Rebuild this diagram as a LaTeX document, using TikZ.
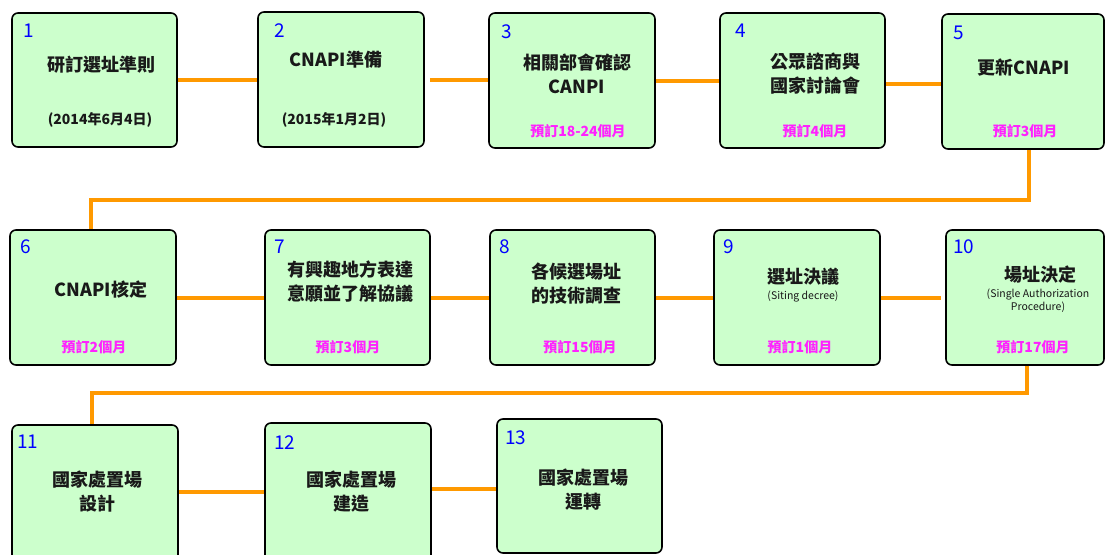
\documentclass[tikz,border=0pt]{standalone}
\usepackage{fontspec}
\setmainfont{Noto Sans CJK TC}
\definecolor{boxgreen}{HTML}{CCFFCC}
\definecolor{lineorange}{HTML}{FF9900}
\definecolor{magentatxt}{HTML}{FF22FF}
\definecolor{bluenum}{HTML}{0000FF}
\tikzset{
  stepbox/.style={draw=black, line width=1.6pt, fill=boxgreen, rounded corners=6pt, inner sep=0pt},
  link/.style={draw=lineorange, line width=4pt},
  numtxt/.style={anchor=west, inner sep=0pt, text=bluenum, font=\fontsize{19}{20}\selectfont},
  titletxt/.style={inner sep=0pt, align=center, font=\fontsize{18}{24}\selectfont\bfseries, text=black!90},
  datetxt/.style={inner sep=0pt, align=center, font=\fontsize{14}{16}\selectfont\bfseries, text=black!90},
  monthtxt/.style={inner sep=0pt, text=magentatxt, font=\fontsize{14}{16}\selectfont\bfseries},
  smalltxt/.style={inner sep=0pt, align=center, font=\fontsize{10.5}{13}\selectfont, text=black!90},
}
\begin{document}
\begin{tikzpicture}[x=1pt,y=-1pt]
\useasboundingbox (0,0) rectangle (1105,554);
\clip (0,0) rectangle (1105,554);
% boxes
\node[stepbox, minimum width=165, minimum height=134] (b1) at (94.5,80) {};
\node[stepbox, minimum width=166, minimum height=135] (b2) at (341,79.5) {};
\node[stepbox, minimum width=166, minimum height=135] (b3) at (572,80.5) {};
\node[stepbox, minimum width=165, minimum height=135] (b4) at (802.5,80.5) {};
\node[stepbox, minimum width=162, minimum height=135] (b5) at (1023,81.5) {};
\node[stepbox, minimum width=166, minimum height=135] (b6) at (93,297.5) {};
\node[stepbox, minimum width=165, minimum height=135] (b7) at (347.5,297.5) {};
\node[stepbox, minimum width=165, minimum height=135] (b8) at (572.5,297.5) {};
\node[stepbox, minimum width=166, minimum height=135] (b9) at (797,297.5) {};
\node[stepbox, minimum width=158, minimum height=135] (b10) at (1025,297.5) {};
\node[stepbox, minimum width=166, minimum height=165] (b11) at (95,507.5) {};
\node[stepbox, minimum width=166, minimum height=167] (b12) at (348,506.5) {};
\node[stepbox, minimum width=165, minimum height=134] (b13) at (579.5,486) {};
% connectors row 1
\draw[link] (b1.east) -- (b1.east -| b2.west);
\draw[link, shorten <=5pt] (b2.east) -- (b2.east -| b3.west);
\draw[link] (b3.east) -- (b3.east -| b4.west);
\draw[link] ([yshift=-3]b4.east) -- ([yshift=-3]b4.east -| b5.west);
% 5 -> 6
\coordinate (bend1) at (0,200);
\draw[link] ([xshift=6]b5.south) -- ([xshift=6]b5.south |- bend1) -| ([xshift=-2]b6.north);
% connectors row 2
\draw[link] (b6.east) -- (b6.east -| b7.west);
\draw[link] (b7.east) -- (b7.east -| b8.west);
\draw[link] (b8.east) -- (b8.east -| b9.west);
\draw[link, shorten >=4pt] (b9.east) -- (b9.east -| b10.west);
% 10 -> 11
\coordinate (bend2) at (0,393);
\draw[link] ([xshift=2]b10.south) -- ([xshift=2]b10.south |- bend2) -| ([xshift=-3]b11.north);
% connectors row 3
\coordinate (c11) at (b11.east |- 0,492);
\draw[link] (c11) -- (c11 -| b12.west);
\coordinate (c12) at (b12.east |- 0,489);
\draw[link] (c12) -- (c12 -| b13.west);
% numbers
\node[numtxt] (n1) at (23,31) {1};
\node[numtxt] (n2) at (274,31) {2};
\node[numtxt] (n3) at (501,32) {3};
\node[numtxt] (n4) at (735,31) {4};
\node[numtxt] (n5) at (953,33) {5};
\node[numtxt] (n6) at (20,247) {6};
\node[numtxt] (n7) at (274,247) {7};
\node[numtxt] (n8) at (499,247) {8};
\node[numtxt] (n9) at (723,247) {9};
\node[numtxt] (n10) at (953,247) {10};
\node[numtxt] (n11) at (17,442) {11};
\node[numtxt] (n12) at (274,443) {12};
\node[numtxt] (n13) at (505,438) {13};
% titles
\node[titletxt] (t1) at (101,65) {研訂選址準則};
\node[datetxt] (d1) at (100,120) {(2014年6月4日)};
\node[titletxt] (t2) at (336,60) {CNAPI準備};
\node[datetxt] (d2) at (334,120) {(2015年1月2日)};
\node[titletxt] (t3) at (577,73.5) {相關部會確認\\CANPI};
\node[monthtxt] (m3) at (578,131) {預訂18-24個月};
\node[titletxt] (t4) at (815,74) {公眾諮商與\\國家討論會};
\node[monthtxt] (m4) at (815,131) {預訂4個月};
\node[titletxt] (t5) at (1024,68) {更新CNAPI};
\node[monthtxt] (m5) at (1025,131) {預訂3個月};
\node[titletxt] (t6) at (101,290) {CNAPI核定};
\node[monthtxt] (m6) at (94,347) {預訂2個月};
\node[titletxt] (t7) at (350,281.5) {有興趣地方表達\\意願並了解協議};
\node[monthtxt] (m7) at (348,347) {預訂3個月};
\node[titletxt] (t8) at (576,284) {各候選場址\\的技術調查};
\node[monthtxt] (m8) at (580,347) {預訂15個月};
\node[titletxt] (t9) at (803,277) {選址決議};
\node[smalltxt] (s9) at (803,297) {(Siting decree)};
\node[monthtxt] (m9) at (800,347) {預訂1個月};
\node[titletxt] (t10) at (1040,275) {場址決定};
\node[smalltxt] (s10) at (1038,301) {(Single Authorization\\Procedure)};
\node[monthtxt] (m10) at (1033,347) {預訂17個月};
\node[titletxt] (t11) at (97,491.5) {國家處置場\\設計};
\node[titletxt] (t12) at (351,491.5) {國家處置場\\建造};
\node[titletxt] (t13) at (583,490) {國家處置場\\運轉};
\end{tikzpicture}
\end{document}
